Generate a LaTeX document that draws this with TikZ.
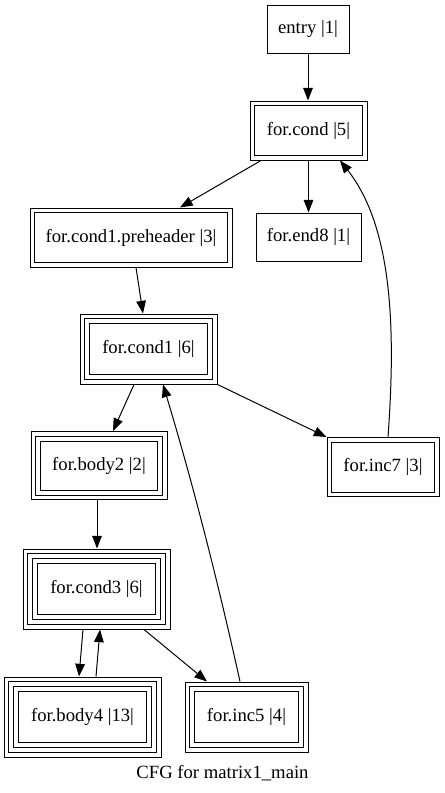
\documentclass[tikz,border=0pt]{standalone}
\usepackage{fontspec}
\setmainfont{Liberation Serif}
\usetikzlibrary{arrows.meta}
\tikzset{
  bb/.style 2 args={draw, line width=0.75pt, inner sep=0pt, font=\fontsize{14pt}{16pt}\selectfont,
     minimum width=#1*0.75pt, minimum height=#2*0.75pt},
  edge/.style={line width=0.75pt, -{Triangle[length=9.5pt,width=7.2pt]}},
  peri/.style={line width=0.75pt}
}
\newcommand\extraborders[2]{%
  \foreach \k in {1,...,#2}{%
    \draw[peri] ([shift={({\k*5},{\k*5})}]#1.north west) rectangle ([shift={({-\k*5},{-\k*5})}]#1.south east);}}
\begin{document}
\begin{tikzpicture}[x=0.75pt,y=-0.75pt]
\useasboundingbox (0,0) rectangle (445,793);
\node[bb={82}{48}]  (entry) at (308,29)     {entry |1|};
\node[bb={117}{59}] (cond)  at (308.5,130.5) {for.cond |5|};
\node[bb={202}{59}] (pre)   at (131,237.5)  {for.cond1.preheader |3|};
\node[bb={105}{48}] (end8)  at (308.5,237)  {for.end8 |1|};
\node[bb={137}{70}] (cond1) at (148.5,349)  {for.cond1 |6|};
\node[bb={136}{68}] (body2) at (99,465.5)   {for.body2 |2|};
\node[bb={112}{59}] (inc7)  at (383,467)    {for.inc7 |3|};
\node[bb={147}{80}] (cond3) at (96.5,589)   {for.cond3 |6|};
\node[bb={157}{80}] (body4) at (82.5,717)   {for.body4 |13|};
\node[bb={123}{70}] (inc5)  at (246.5,717)  {for.inc5 |4|};
\node[font=\fontsize{14pt}{16pt}\selectfont] (cap) at (222.5,773) {CFG for matrix1\_main};
\extraborders{cond}{1}
\extraborders{pre}{1}
\extraborders{cond1}{2}
\extraborders{body2}{2}
\extraborders{inc7}{1}
\extraborders{cond3}{3}
\extraborders{body4}{3}
\extraborders{inc5}{2}
% edges
\draw[edge] (entry.south) -- ([xshift=-0.5*0.75pt]cond.north);
\draw[edge] ([shift={(-47.5,0)}]cond.south) -- ([shift={(49,0)}]pre.north);
\draw[edge] (cond.south) -- (end8.north);
\draw[edge] ([shift={(5,0)}]inc7.north) .. controls (395,340) and (395,230) .. ([shift={(31.5,0)}]cond.south);
\draw[edge] ([shift={(5,0)}]pre.south) -- ([shift={(-5.5,0)}]cond1.north);
\draw[edge] ([shift={(-14.5,0)}]cond1.south) -- ([shift={(14,0)}]body2.north);
\draw[edge] (cond1.south east) -- (inc7.north west);
\draw[edge] ([shift={(-6.5,0)}]inc5.north) .. controls (218,582) and (193,484) .. ([shift={(14.5,0)}]cond1.south);
\draw[edge] ([shift={(-2,0)}]body2.south) -- ([shift={(0.5,0)}]cond3.north);
\draw[edge] ([shift={(-13.5,0)}]cond3.south) -- ([shift={(-3.5,0)}]body4.north);
\draw[edge] ([shift={(13.5,0)}]body4.north) -- ([shift={(3.5,0)}]cond3.south);
\draw[edge] ([shift={(47.5,0)}]cond3.south) -- ([shift={(-39.5,0)}]inc5.north);
\end{tikzpicture}
\end{document}
